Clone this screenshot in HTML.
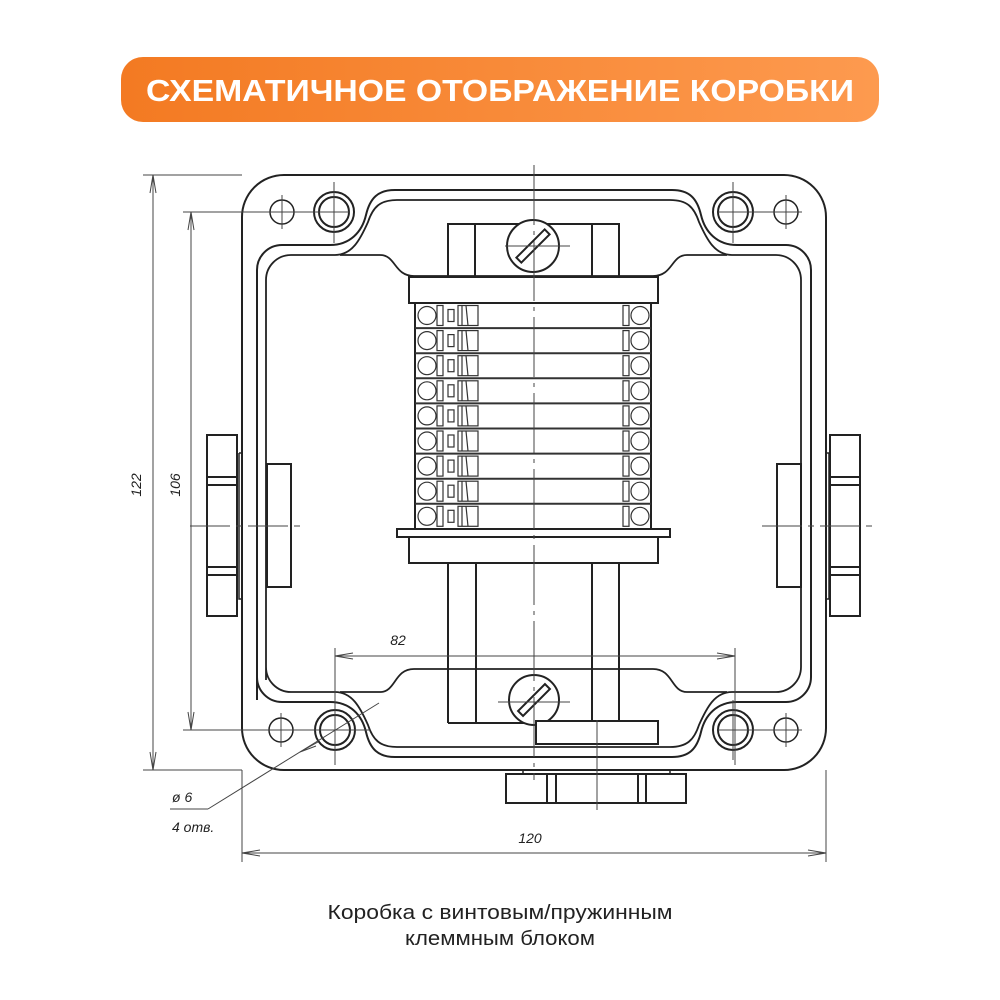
<!DOCTYPE html>
<html><head><meta charset="utf-8"><style>
html,body{margin:0;padding:0;background:#fff;}
body{width:1000px;height:1000px;position:relative;overflow:hidden;font-family:"Liberation Sans",sans-serif;}
.ban{position:absolute;left:121px;top:57px;width:758px;height:65px;border-radius:22px;background:linear-gradient(90deg,#f37a22,#fd9a4f);}
</style></head><body>
<div class="ban"></div>
<svg width="1000" height="1000" style="position:absolute;left:0;top:0">
<text x="500" y="101" text-anchor="middle" font-family="Liberation Sans,sans-serif" font-weight="bold" font-size="31" fill="#fff" textLength="708" lengthAdjust="spacingAndGlyphs">СХЕМАТИЧНОЕ ОТОБРАЖЕНИЕ КОРОБКИ</text>
<g fill="none" stroke="#222" stroke-width="2">
<rect x="242" y="175" width="584" height="595" rx="42"/>
<path d="M257 700 V270 A25 25 0 0 1 282 245 H330 C350 245 362 232 366 215 C370 198 378 190 395 190 H672 C689 190 697 198 701 215 C705 232 717 245 737 245 H786 A25 25 0 0 1 811 270 V677 A25 25 0 0 1 786 702 H737 C717 702 705 715 701 732 C697 749 689 757 672 757 H395 C378 757 370 749 366 732 C362 715 350 702 330 702 H282 A25 25 0 0 1 257 677 Z"/>
<path d="M266 680 V280 A25 25 0 0 1 291 255 H335 C352 255 360 240 368 222 C373 207 380 200 397 200 H670 C687 200 694 207 699 222 C707 240 715 255 732 255 H776 A25 25 0 0 1 801 280 V667 A25 25 0 0 1 776 692 H732 C715 692 707 707 699 725 C694 740 687 747 670 747 H397 C380 747 373 740 368 725 C360 707 352 692 335 692 H291 A25 25 0 0 1 266 667 Z" stroke-width="1.8"/>
<path d="M340 255 H380 C396 255 394 276 414 276 H653 C673 276 671 255 687 255 H727" stroke-width="1.8"/>
<path d="M340 692 H380 C396 692 394 669 414 669 H653 C673 669 671 692 687 692 H727" stroke-width="1.8"/>
<circle cx="334" cy="212" r="20"/><circle cx="334" cy="212" r="15"/>
<circle cx="733" cy="212" r="20"/><circle cx="733" cy="212" r="15"/>
<circle cx="335" cy="730" r="20"/><circle cx="335" cy="730" r="15"/>
<circle cx="733" cy="730" r="20"/><circle cx="733" cy="730" r="15"/>
<g stroke-width="1.5"><circle cx="282" cy="212" r="12"/><circle cx="786" cy="212" r="12"/><circle cx="281" cy="730" r="12"/><circle cx="786" cy="730" r="12"/></g>
<rect x="448" y="224" width="171" height="53"/>
<line x1="475" y1="224" x2="475" y2="277"/><line x1="592" y1="224" x2="592" y2="277"/>
<circle cx="533" cy="246" r="26" fill="#fff"/>
<rect x="-3.5" y="-20" width="7" height="40" transform="translate(533 246) rotate(45)"/>
<rect x="409" y="277" width="249" height="26"/>
<rect x="415" y="303" width="236" height="226"/>
<rect x="397" y="529" width="273" height="8"/>
<rect x="409" y="537" width="249" height="26"/>
<line x1="448" y1="563" x2="448" y2="723"/><line x1="476" y1="563" x2="476" y2="723"/>
<line x1="592" y1="563" x2="592" y2="723"/><line x1="619" y1="563" x2="619" y2="723"/>
<line x1="448" y1="723" x2="536" y2="723"/>
<circle cx="534" cy="700" r="25" fill="#fff"/>
<rect x="-3.5" y="-19" width="7" height="38" transform="translate(534 700) rotate(45)"/>
<rect x="536" y="721" width="122" height="23" fill="#fff"/>
<rect x="523" y="770" width="147" height="4" stroke-width="1.5"/>
<rect x="506" y="774" width="180" height="29"/>
<line x1="547" y1="774" x2="547" y2="803"/><line x1="556" y1="774" x2="556" y2="803"/>
<line x1="638" y1="774" x2="638" y2="803"/><line x1="646" y1="774" x2="646" y2="803"/>
<rect x="207" y="435" width="30" height="181"/>
<line x1="207" y1="477" x2="237" y2="477"/><line x1="207" y1="485" x2="237" y2="485"/>
<line x1="207" y1="567" x2="237" y2="567"/><line x1="207" y1="575" x2="237" y2="575"/>
<path d="M239 453 H242 M239 453 V599 H242" stroke-width="1.5"/>
<rect x="267" y="464" width="24" height="123"/>
<rect x="830" y="435" width="30" height="181"/>
<line x1="830" y1="477" x2="860" y2="477"/><line x1="830" y1="485" x2="860" y2="485"/>
<line x1="830" y1="567" x2="860" y2="567"/><line x1="830" y1="575" x2="860" y2="575"/>
<path d="M829 453 H826 M829 453 V599 H826" stroke-width="1.5"/>
<rect x="777" y="464" width="24" height="123"/>
</g>
<g fill="none" stroke="#333" stroke-width="1.2" id="rows"></g>
<g fill="none" stroke="#444" stroke-width="1">
<line x1="534" y1="165" x2="534" y2="780" stroke-dasharray="60 6 4 6"/>
<line x1="597" y1="720" x2="597" y2="810"/>
<line x1="190" y1="526" x2="305" y2="526" stroke-dasharray="40 6 6 6"/>
<line x1="762" y1="526" x2="875" y2="526" stroke-dasharray="40 6 6 6"/>
<line x1="265" y1="212" x2="350" y2="212"/><line x1="282" y1="195" x2="282" y2="229"/><line x1="334" y1="182" x2="334" y2="243"/>
<line x1="718" y1="212" x2="802" y2="212"/><line x1="786" y1="195" x2="786" y2="229"/><line x1="733" y1="182" x2="733" y2="243"/>
<line x1="265" y1="730" x2="370" y2="730"/><line x1="281" y1="713" x2="281" y2="747"/>
<line x1="718" y1="730" x2="802" y2="730"/><line x1="786" y1="713" x2="786" y2="747"/><line x1="733" y1="700" x2="733" y2="760"/>
<line x1="505" y1="246" x2="570" y2="246"/><line x1="498" y1="702" x2="570" y2="702"/>
<line x1="143" y1="175" x2="242" y2="175"/><line x1="143" y1="770" x2="242" y2="770"/>
<line x1="153" y1="175" x2="153" y2="770"/>
<line x1="183" y1="212" x2="280" y2="212"/><line x1="183" y1="730" x2="280" y2="730"/>
<line x1="191" y1="212" x2="191" y2="730"/>
<line x1="335" y1="648" x2="335" y2="765"/><line x1="735" y1="648" x2="735" y2="765"/>
<line x1="335" y1="656" x2="735" y2="656"/>
<line x1="242" y1="770" x2="242" y2="862"/><line x1="826" y1="770" x2="826" y2="862"/>
<line x1="242" y1="853" x2="826" y2="853"/>
<path d="M150 193 L153 175 L156 193 M150 752 L153 770 L156 752 M188 230 L191 212 L194 230 M188 712 L191 730 L194 712 M353 653 L335 656 L353 659 M717 653 L735 656 L717 659 M260 850 L242 853 L260 856 M808 850 L826 853 L808 856"/>
<line x1="379" y1="703" x2="208" y2="809"/><line x1="208" y1="809" x2="170" y2="809"/>
<path d="M300 752 L318 742 M300 752 L316 746"/>
</g>
<g font-family="Liberation Sans,sans-serif" font-style="italic" font-size="14" fill="#222">
<text transform="translate(141 485) rotate(-90)" text-anchor="middle">122</text>
<text transform="translate(180 485) rotate(-90)" text-anchor="middle">106</text>
<text x="398" y="645" text-anchor="middle">82</text>
<text x="530" y="843" text-anchor="middle">120</text>
<text x="172" y="802">ø 6</text>
<text x="172" y="832">4 отв.</text>
</g>
<g font-family="Liberation Sans,sans-serif" font-size="20" fill="#222" text-anchor="middle">
<text x="500" y="919" textLength="345" lengthAdjust="spacingAndGlyphs">Коробка с винтовым/пружинным</text>
<text x="500" y="945" textLength="190" lengthAdjust="spacingAndGlyphs">клеммным блоком</text>
</g>
</svg>
<script>
var g=document.getElementById('rows'),s='';
for(var i=0;i<9;i++){var y=303+i*25.1;
if(i>0)s+='<line x1="415" y1="'+y+'" x2="651" y2="'+y+'" stroke-width="2"/>';
var c=y+12.5;
s+='<circle cx="427" cy="'+c+'" r="9"/><rect x="437" y="'+(c-10)+'" width="6" height="20"/><rect x="448" y="'+(c-6)+'" width="6" height="12"/><rect x="458" y="'+(c-10)+'" width="20" height="20"/><line x1="462" y1="'+(c-10)+'" x2="462" y2="'+(c+10)+'"/><line x1="466" y1="'+(c-10)+'" x2="468" y2="'+(c+10)+'"/><rect x="623" y="'+(c-10)+'" width="6" height="20"/><circle cx="640" cy="'+c+'" r="9"/>';}
g.innerHTML=s;
</script>
</body></html>
